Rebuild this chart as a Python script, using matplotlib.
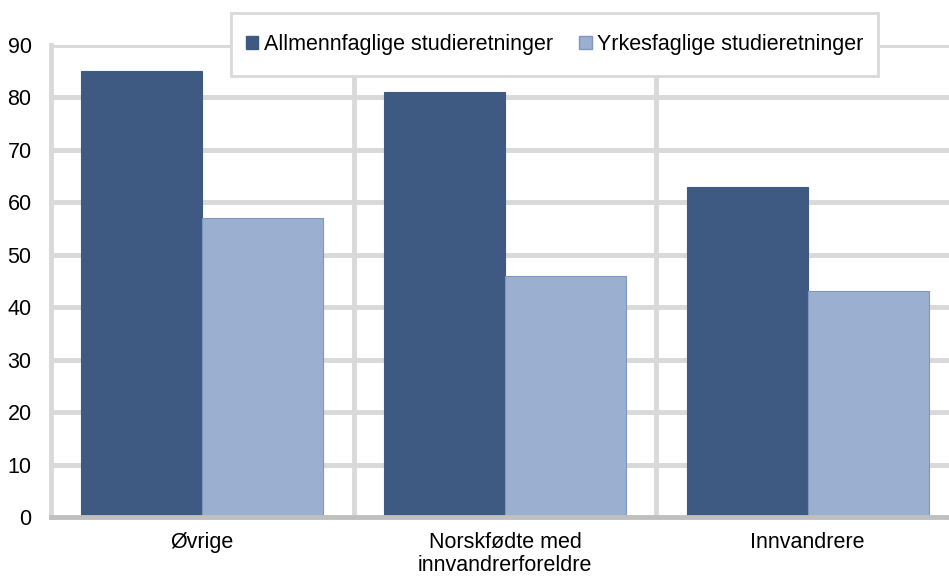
import matplotlib.pyplot as plt
import numpy as np
from matplotlib.patches import Patch, Rectangle

categories = ["Øvrige", "Norskfødte med\ninnvandrerforeldre", "Innvandrere"]
series_names = ["Allmennfaglige studieretninger", "Yrkesfaglige studieretninger"]
allmenn = [85, 81, 63]
yrkes = [57, 46, 43]
yticks = [0, 10, 20, 30, 40, 50, 60, 70, 80, 90]


def main():
    plt.rcParams["font.family"] = ["Liberation Sans", "DejaVu Sans"]
    fig = plt.figure(figsize=(9.49, 5.76), dpi=100)
    W, H = 949, 576
    ax = fig.add_axes([51 / W, 1 - 517 / H, 1 - 51 / W, (517 - 45) / H])

    dark = "#3f5a82"
    light = "#9bafd0"
    grid = "#d9d9d9"

    x = np.arange(len(categories))
    w = 0.4
    ax.bar(x - w / 2, allmenn, w, color=dark, edgecolor=dark, linewidth=0.8, zorder=3)
    ax.bar(x + w / 2, yrkes, w, color=light, edgecolor="#7f96c0", linewidth=0.8, zorder=3)

    ax.set_ylim(0, 90)
    ax.set_xlim(-0.5, 2.5 - 10 / 303)
    ax.set_yticks(yticks)
    ax.set_xticks(x)
    ax.set_xticklabels(categories, fontsize=15.5, linespacing=1.13)
    ax.tick_params(axis="y", labelsize=15.5, length=0, pad=14)
    ax.tick_params(axis="x", length=0, pad=11)

    # gridlines
    for yv in yticks[1:]:
        ax.axhline(yv, color=grid, lw=3.5, zorder=1)
    for xv in [0.5, 1.5]:
        ax.axvline(xv, color=grid, lw=3.5, zorder=1)

    for s in ["top", "right"]:
        ax.spines[s].set_visible(False)
    ax.spines["left"].set_color(grid)
    ax.spines["left"].set_linewidth(3.5)
    ax.spines["bottom"].set_color("#bfbfbf")
    ax.spines["bottom"].set_linewidth(3.5)
    ax.spines["bottom"].set_zorder(4)

    # legend box
    box = Rectangle((231 / W, 1 - 76 / H), (878 - 231) / W, (76 - 13) / H,
                    transform=fig.transFigure, facecolor="white", edgecolor=grid,
                    linewidth=2, zorder=5)
    fig.patches.append(box)

    handles = [Patch(facecolor=dark, edgecolor=dark), Patch(facecolor=light, edgecolor="#7f96c0")]
    leg = fig.legend(handles, series_names, loc="center", bbox_to_anchor=(554.5 / W, 1 - 44.5 / H),
                     ncol=2, fontsize=15.5, frameon=False, handlelength=0.6,
                     handleheight=0.6, handletextpad=0.25, columnspacing=1.2,
                     borderpad=0.5, borderaxespad=0)
    leg.set_zorder(10)

    fig.savefig("out.png", dpi=100)


if __name__ == "__main__":
    main()
